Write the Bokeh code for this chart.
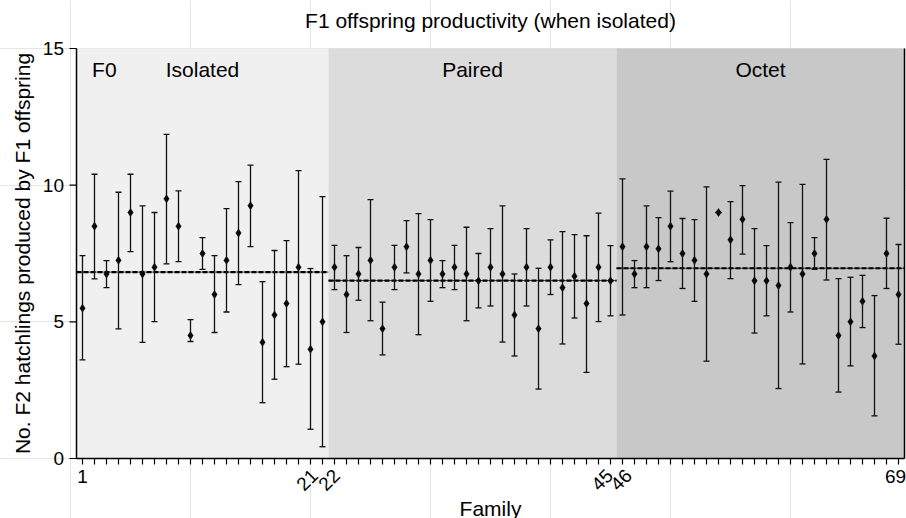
from bokeh.plotting import figure
from bokeh.models import (ColumnDataSource, Whisker, TeeHead, Label, Range1d)
from bokeh.core.properties import value
from bokeh.embed import file_html
from bokeh.resources import INLINE

# ---------------- data ----------------
families = list(range(1, 70))
means = [5.5, 8.5, 6.75, 7.25, 9.0, 6.75, 7.0, 9.5, 8.5, 4.5,
         7.5, 6.0, 7.25, 8.25, 9.25, 4.25, 5.25, 5.67, 7.0, 4.0,
         5.0,
         7.0, 6.0, 6.75, 7.25, 4.75, 7.0, 7.75, 6.75, 7.25, 6.75,
         7.0, 6.75, 6.5, 7.0, 6.75, 5.25, 7.0, 4.75, 7.0, 6.25,
         6.67, 5.67, 7.0, 6.5,
         7.75, 6.75, 7.75, 7.67, 8.5, 7.5, 7.25, 6.75, 9.0, 8.0,
         8.75, 6.5, 6.5, 6.33, 7.0, 6.75, 7.5, 8.75, 4.5, 5.0,
         5.75, 3.75, 7.5, 6.0]
upper = [7.42, 10.40, 7.24, 9.74, 10.40, 9.24, 9.00, 11.86, 9.79, 5.08,
         8.08, 7.42, 9.14, 10.13, 10.73, 6.47, 7.61, 7.97, 10.53, 6.95,
         9.58,
         7.80, 7.42, 7.72, 9.47, 5.72, 7.80, 8.70, 8.96, 8.74, 7.24,
         7.80, 8.46, 7.50, 8.41, 9.24, 6.75, 8.41, 6.96, 8.00, 8.30,
         8.19, 8.15, 8.98, 7.79,
         10.23, 7.24, 9.24, 8.81, 9.78, 8.78, 8.74, 9.94, 9.00, 9.40,
         9.98, 8.41, 7.79, 10.11, 8.63, 10.03, 8.08, 10.94, 6.58, 6.63,
         6.70, 5.96, 8.79, 7.83]
lower = [3.61, 6.57, 6.25, 4.74, 7.57, 4.25, 5.01, 7.12, 7.20, 4.28,
         6.92, 4.61, 5.36, 6.36, 7.75, 2.04, 2.90, 3.36, 3.45, 1.07,
         0.43,
         6.18, 4.61, 5.79, 5.04, 3.79, 6.18, 6.79, 4.53, 5.75, 6.25,
         6.18, 5.04, 5.51, 5.58, 4.26, 3.75, 5.58, 2.54, 6.00, 4.19,
         5.14, 3.15, 5.01, 5.22,
         5.25, 6.25, 6.25, 6.51, 7.20, 6.22, 5.75, 3.56, 9.00, 6.58,
         7.48, 4.59, 5.22, 2.56, 5.36, 3.46, 6.92, 6.53, 2.43, 3.39,
         4.79, 1.56, 6.22, 4.18]

groups = ["Isolated", "Paired", "Octet"]
group_first = [1, 22, 46]
group_last = [21, 45, 69]
group_mean = [6.82, 6.51, 6.96]
group_colors = ["#f0f0f0", "#dcdcdc", "#c8c8c8"]

shown_ticks = [1, 69]
rotated_ticks = [21, 22, 45, 46]
y_ticks = [0, 5, 10, 15]
Y_MAX = 15

title_text = "F1 offspring productivity (when isolated)"
x_title = "Family"
y_title = "No. F2 hatchlings produced by F1 offspring"
FONT = "Liberation Sans"
TEXT_SIZE = "21px"
TICK_SIZE = "19px"

# ---------------- layout helpers (pixels) ----------------
W, H = 906, 518
PX_PER_Y = 410 / 15.0          # vertical scale
PX_PER_X = 12.0                # horizontal scale
ROOM_ABOVE = 48                # canvas room above y=15
ROOM_LEFT = 76                 # canvas room left of the first family slot
def dy(px):
    return px / PX_PER_Y
def dx(px):
    return px / PX_PER_X
x_axis = min(group_first) - 0.5            # where the y axis line sits
x_end = max(group_last) + 0.5              # right border of the plot region
x_lo = x_axis - dx(ROOM_LEFT)
x_hi = x_lo + dx(W)
y_hi = Y_MAX + dy(ROOM_ABOVE)
y_lo = y_hi - dy(H)
x_mid = (x_axis + x_end) / 2

# ---------------- figure (whole canvas is the frame) ----------------
p = figure(width=W, height=H, output_backend="svg", toolbar_location=None,
           x_range=Range1d(x_lo, x_hi), y_range=Range1d(y_lo, y_hi),
           x_axis_location=None, y_axis_location=None,
           min_border_left=0, min_border_right=0,
           min_border_top=0, min_border_bottom=0)
p.outline_line_color = None
p.background_fill_color = "white"
p.border_fill_color = "white"

# group shading
left = [f - 0.5 for f in group_first]
right = [l + 0.5 for l in group_last]
p.quad(left=left, right=right, bottom=[0] * 3, top=[Y_MAX] * 3,
       fill_color=group_colors, line_color=None)

# group mean lines
p.segment(x0=left, x1=right, y0=group_mean, y1=group_mean,
          line_color="#444444", line_width=1)
p.segment(x0=left, x1=right, y0=group_mean, y1=group_mean,
          line_color="black", line_width=2.2, line_dash="5 2")

# error bars and points
src = ColumnDataSource(dict(x=families, y=means, hi=upper, lo=lower))
w = Whisker(base="x", upper="hi", lower="lo", source=src,
            line_color="#111111", line_width=1.3,
            upper_head=TeeHead(size=6, line_color="#111111", line_width=1.3),
            lower_head=TeeHead(size=6, line_color="#111111", line_width=1.3),
            level="overlay")
p.add_layout(w)
p.scatter("x", "y", source=src, marker="diamond", size=8,
          fill_color="black", line_color="black", line_width=0.5)

# axis lines and right border
p.segment(x0=[x_axis], x1=[x_axis], y0=[0], y1=[Y_MAX], line_color="black",
          line_width=1.5)
p.segment(x0=[x_axis], x1=[x_end], y0=[0], y1=[0], line_color="black",
          line_width=1.5)
p.segment(x0=[x_end], x1=[x_end], y0=[0], y1=[Y_MAX],
          line_color="black", line_width=1.5)

# ---- x axis ----
p.segment(x0=families, x1=families, y0=[0] * len(families),
          y1=[-dy(6)] * len(families), line_color="black", line_width=1.2)
p.text(x=shown_ticks, y=[-dy(17.5)] * len(shown_ticks),
       text=[str(t) for t in shown_ticks], x_offset=[0, -3],
       text_align="center", text_baseline="middle", text_font=value(FONT),
       text_font_size=TICK_SIZE, text_color="black")
p.text(x=rotated_ticks, y=[-dy(14)] * len(rotated_ticks),
       text=[str(t) for t in rotated_ticks], angle=0.785398,
       x_offset=[-8, 2, -1, 6],
       text_align="right", text_baseline="middle", text_font=value(FONT),
       text_font_size=TICK_SIZE, text_color="black")
p.text(x=[x_mid], y=[-dy(50.3)], text=[x_title], text_align="center",
       text_baseline="middle", text_font=value(FONT),
       text_font_size=TEXT_SIZE, text_color="black")

# ---- y axis ----
p.segment(x0=[x_axis] * len(y_ticks), x1=[x_axis - dx(7)] * len(y_ticks),
          y0=y_ticks, y1=y_ticks, line_color="black", line_width=1.2)
p.text(x=[x_axis - dx(12.5)] * len(y_ticks), y=y_ticks,
       text=[str(t) for t in y_ticks], text_align="right",
       text_baseline="middle", text_font=value(FONT),
       text_font_size=TICK_SIZE, text_color="black")
p.text(x=[x_axis - dx(54)], y=[Y_MAX / 2], text=[y_title], angle=1.570796,
       text_align="center", text_baseline="middle", text_font=value(FONT),
       text_font_size=TEXT_SIZE, text_color="black")

# ---- chart title ----
p.text(x=[x_mid], y=[Y_MAX + dy(27.7)], text=[title_text],
       text_align="center", text_baseline="middle",
       text_font=value(FONT), text_font_size=TEXT_SIZE, text_color="black")

# group labels
p.add_layout(Label(x=1.8, y=Y_MAX - dy(21), text="F0", text_align="left",
                   text_baseline="middle", text_font=FONT,
                   text_font_size=TEXT_SIZE, text_color="black"))
for g, a, b in zip(groups, left, right):
    p.add_layout(Label(x=(a + b) / 2, y=Y_MAX - dy(21), text=g,
                       text_align="center", text_baseline="middle",
                       text_font=FONT, text_font_size=TEXT_SIZE,
                       text_color="black"))

open("out.html", "w").write(file_html(p, INLINE))
